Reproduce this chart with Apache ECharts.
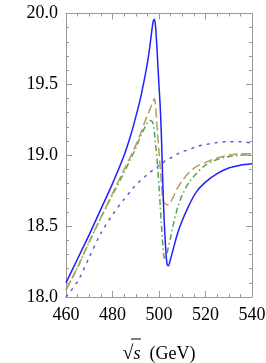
<!DOCTYPE html>
<html><head><meta charset="utf-8">
<script src="https://cdn.jsdelivr.net/npm/echarts@6/dist/echarts.min.js"></script>
<style>html,body{margin:0;padding:0;background:#fff}#c{width:266px;height:363px}</style>
</head><body><div id="c"></div>
<script>
var xs =      [460,   465,   470,   475,   480,   485,   488,   490,   492,   494,   495,   496,   497,   497.5, 498,   498.5, 499,   499.5, 500,   500.5, 501,   501.5, 502,   502.5, 503,   503.5, 504,   505,   506,   508,   510,   513,   516,   520,   525,   530,   535,   540];
var solid =   [18.10, 18.27, 18.44, 18.62, 18.80, 19.00, 19.15, 19.27, 19.40, 19.56, 19.65, 19.76, 19.89, 19.945,19.96, 19.91, 19.79, 19.64, 19.49, 19.35, 19.15, 18.88, 18.63, 18.45, 18.31, 18.23, 18.22, 18.27, 18.33, 18.45, 18.54, 18.65, 18.74, 18.81, 18.87, 18.91, 18.93, 18.94];
var dashed =  [18.05, 18.21, 18.39, 18.56, 18.73, 18.90, 19.00, 19.07, 19.15, 19.24, 19.28, 19.32, 19.36, 19.38, 19.40, 19.36, 19.24, 19.13, 19.02, 18.92, 18.81, 18.71, 18.67, 18.66, 18.655,18.65, 18.65, 18.67, 18.70, 18.77, 18.82, 18.88, 18.92, 18.95, 18.98, 19.00, 19.01, 19.01];
var dashdot = [18.05, 18.21, 18.39, 18.56, 18.72, 18.88, 18.98, 19.05, 19.13, 19.20, 19.23, 19.245,19.24, 19.22, 19.16, 19.08, 19.00, 18.90, 18.78, 18.65, 18.52, 18.40, 18.30, 18.265,18.28, 18.31, 18.35, 18.42, 18.50, 18.63, 18.72, 18.81, 18.87, 18.93, 18.97, 18.99, 19.00, 19.01];
var dotted =  [18.00, 18.11, 18.28, 18.45, 18.58, 18.69, 18.75, 18.79, 18.82, 18.85, 18.865,18.88, 18.89, 18.895,18.90, 18.905,18.91, 18.92, 18.93, 18.935,18.94, 18.945,18.95, 18.96, 18.965,18.97, 18.975,18.98, 18.99, 19.01, 19.025,19.04, 19.06, 19.075,19.09, 19.095,19.095,19.085];
var xTicks = [460, 480, 500, 520, 540];
var yTicks = ['18.0', '18.5', '19.0', '19.5', '20.0'];

function pairs(v){ return xs.map(function(x,i){ return [x, v[i]]; }); }
var font = 'Liberation Serif';
var frame = '#999999';
function xa(pos, labels){
  return {type:'value', position:pos, min:460, max:540, interval:20,
    axisLine:{show:true, lineStyle:{color:frame, width:1}},
    axisTick:{show:true, inside:true, length:6, lineStyle:{color:frame}},
    minorTick:{show:true, splitNumber:4, length:3, lineStyle:{color:frame}},
    splitLine:{show:false},
    axisLabel:{show:labels, color:'#000', fontFamily:font, fontSize:18, margin:9,
      formatter:function(v){ return xTicks.indexOf(v)>=0 ? String(v) : ''; }}};
}
function ya(pos, labels){
  return {type:'value', position:pos, min:18, max:20, interval:0.5,
    axisLine:{show:true, lineStyle:{color:frame, width:1}},
    axisTick:{show:true, inside:true, length:6, lineStyle:{color:frame}},
    minorTick:{show:true, splitNumber:5, length:3, lineStyle:{color:frame}},
    splitLine:{show:false},
    axisLabel:{show:labels, color:'#000', fontFamily:font, fontSize:18, margin:8,
      formatter:function(v){ var i = Math.round((v-18)/0.5); return yTicks[i]; }}};
}
var xb = xa('bottom', true);
xb.name = '{r|\u221A}{s|s}{g|  (GeV)}';
xb.nameLocation = 'middle';
xb.nameGap = 47;
xb.nameTextStyle = {rich:{
  r:{fontFamily:font, fontSize:20, color:'#000'},
  s:{fontFamily:font, fontSize:18, fontStyle:'italic', color:'#000'},
  g:{fontFamily:font, fontSize:18, color:'#000'}}};

var chart = echarts.init(document.getElementById('c'), null, {renderer:'canvas'});
chart.setOption({
  animation:false,
  grid:{left:66, right:14, top:13.5, bottom:66, containLabel:false, outerBoundsMode:'none'},
  xAxis:[xb, xa('top', false)],
  yAxis:[ya('left', true), ya('right', false)],
  graphic:[{type:'line', shape:{x1:131, y1:339, x2:141, y2:339}, style:{stroke:'#000', lineWidth:1}}],
  series:[
    {type:'line', data:pairs(dotted), showSymbol:false, smooth:0.3, lineStyle:{color:'#5b5bd0', width:1.5, type:[3,5]}},
    {type:'line', data:pairs(dashdot), showSymbol:false, smooth:0.3, lineStyle:{color:'#55a35a', width:1.5, type:[6,3,1.5,3]}},
    {type:'line', data:pairs(dashed), showSymbol:false, smooth:0.3, lineStyle:{color:'#b5a060', width:1.5, type:[9,4]}},
    {type:'line', data:pairs(solid), showSymbol:false, smooth:0.3, lineStyle:{color:'#1f1fff', width:1.5}}
  ]
});
</script></body></html>
